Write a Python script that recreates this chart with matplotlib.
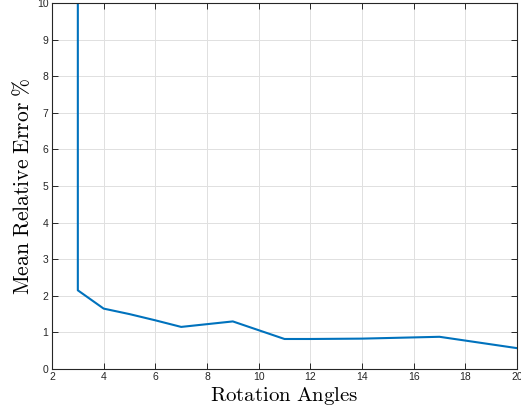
import matplotlib
matplotlib.use("Agg")
import matplotlib.pyplot as plt

# Valores
angulos = [3, 3, 4, 5, 6, 7, 9, 11, 12, 14, 17, 20]
erro_medio = [60, 2.15, 1.65, 1.5, 1.33, 1.15, 1.3, 0.82, 0.82, 0.83, 0.88, 0.57]
xticks = [2, 4, 6, 8, 10, 12, 14, 16, 18, 20]
yticks = [0, 1, 2, 3, 4, 5, 6, 7, 8, 9, 10]

plt.rcParams['mathtext.fontset'] = 'cm'
plt.rcParams['font.family'] = ['Liberation Sans', 'DejaVu Sans']

fig = plt.figure(figsize=(5.21, 4.16), dpi=100)
ax = fig.add_axes([52 / 521, 1 - 369 / 416, (517 - 52) / 521, (369 - 3) / 416])

ax.plot(angulos, erro_medio, color='#0072BD', linewidth=1.5)
ax.set_xlim(2, 20)
ax.set_ylim(0, 10)
ax.set_xticks(xticks)
ax.set_yticks(yticks)
ax.grid(True, color='#e0e0e0', linewidth=0.7)
ax.set_axisbelow(True)
ax.tick_params(direction='in', top=True, right=True, labelsize=7.5,
               colors='#262626', length=4, width=0.7, pad=2.5)
for s in ax.spines.values():
    s.set_color('#262626')
    s.set_linewidth(0.8)

ax.set_xlabel(r'$\mathrm{Rotation\ Angles}$', fontsize=15, labelpad=2)
ax.set_ylabel(r'$\mathrm{Mean\ Relative\ Error\ \%}$', fontsize=15.5, labelpad=2)

fig.savefig('out.png', dpi=100)
